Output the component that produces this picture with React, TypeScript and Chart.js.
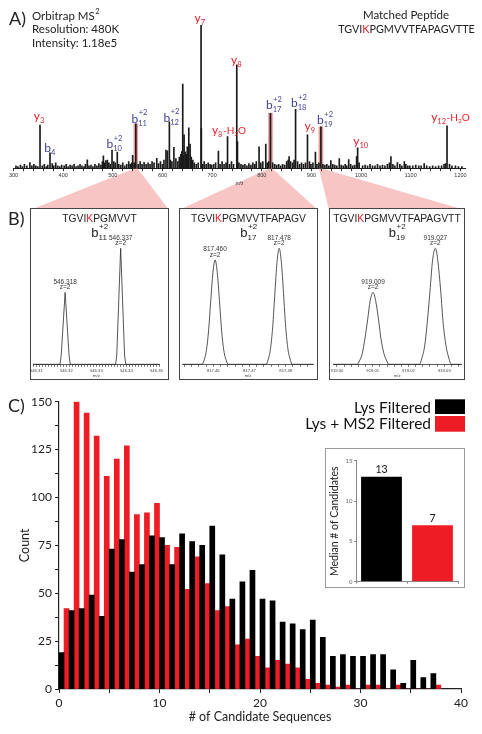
import React, { useEffect, useRef } from "react";
import { Chart, registerables } from "chart.js";

Chart.register(...registerables);

// ---------- colours ----------
const RED = "#e8212a";
const BLUE = "#3e3f9d";
const PINK = "#f8c5c5";
const HILITE = "#e79c9c";
const BAR_RED = "#ee1d25";
const INK = "#1a1a1a";

// ---------- Panel A : MS2 spectrum (relative intensity, %) ----------
const peakMz = [333, 353.4, 373.5, 448.7, 481, 486, 498.4, 509, 540, 546.32, 588.5, 607, 610, 613.9, 623, 640.8, 643.5, 646, 650, 653, 655.6, 677.7, 678.3, 712.6, 731, 749.6, 751, 794.5, 808, 817.46, 855, 868, 892, 908, 919.01, 939, 956, 975, 991, 993, 1060, 1073, 1087, 1127, 1170, 1173];
const peakIntensity = [4.2, 30.4, 11.1, 6.1, 9.0, 5.6, 13.0, 11.6, 9.3, 31.3, 7.2, 13.0, 12.5, 32.7, 14.9, 58.9, 23.5, 11.8, 15.3, 28.5, 17.2, 100, 28, 12.3, 22.3, 72.2, 18.8, 15.3, 17.2, 38.6, 8.4, 41.3, 23.5, 11.5, 29.2, 5.6, 7.0, 6.3, 8.4, 14.6, 8.4, 4.2, 4.9, 3.5, 3.5, 29.9];
const noiseMz = [305, 309, 314, 318, 322, 327, 337, 341, 345, 349, 358, 362, 366, 369, 378, 381, 385, 389, 393, 397, 402, 406, 410, 414, 418, 422, 426, 430, 434, 438, 442, 445, 452, 456, 460, 464, 468, 472, 476, 479, 483, 489, 492, 495, 502, 505, 512, 516, 520, 524, 528, 532, 535, 538, 543, 551, 555, 559, 563, 567, 571, 575, 579, 583, 592, 596, 600, 603, 616, 619, 627, 631, 634, 637, 639, 642, 648, 658, 661, 664, 668, 672, 681, 684, 688, 692, 696, 699, 703, 707, 716, 720, 724, 728, 735, 739, 743, 754, 758, 762, 766, 770, 774, 778, 782, 786, 789, 798, 802, 811, 814, 822, 826, 830, 834, 838, 842, 846, 850, 853, 858, 862, 865, 872, 876, 880, 884, 888, 896, 899, 903, 911, 915, 923, 927, 931, 935, 943, 947, 951, 960, 964, 968, 971, 979, 983, 987, 996, 1003, 1008, 1013, 1018, 1023, 1028, 1033, 1038, 1043, 1048, 1053, 1057, 1064, 1068, 1078, 1082, 1090, 1094, 1098, 1104, 1110, 1116, 1121, 1132, 1138, 1144, 1150, 1156, 1162, 1167, 1178, 1183, 1190, 1196, 1203];
const noiseIntensity = [2, 1.5, 2.5, 1.5, 3, 2, 2, 3, 2, 1.5, 2, 3, 1.5, 2.5, 3.5, 2, 4, 2, 1.5, 2.5, 2, 3, 1.5, 2.5, 2, 3, 1.5, 2, 3, 2, 1.5, 3, 2, 2.5, 1.5, 3, 2, 3.5, 2.5, 5, 4, 6, 4, 3, 5, 4, 3, 2.5, 4, 2, 3, 5, 3, 4, 4, 3, 5, 3, 4.5, 3, 4, 3, 5, 4, 3.5, 5, 3, 6, 6, 5, 7, 5, 8, 10, 12, 9, 10, 8, 6, 4, 3, 4, 3, 5, 3, 4, 3, 2.5, 3, 4, 3, 5, 3, 4, 3, 5, 3, 4, 3, 2.5, 3, 2, 3.5, 2.5, 4, 3, 5, 4, 5, 4, 5, 4, 3, 2.5, 3, 2, 3, 2.5, 5, 6, 5, 4, 6, 5, 3, 4, 3, 4, 5, 3, 4, 3, 4, 3, 2.5, 3, 2, 3, 2.5, 2, 2.5, 2, 3, 2, 3, 2, 2.5, 4, 2, 2.5, 2, 3, 2, 2, 3, 2, 2.5, 2, 3, 4, 3, 2, 3, 2, 3, 2, 2, 2, 2.5, 2, 2, 2, 1.5, 2, 1.5, 2, 2, 3, 3, 2, 2, 1.5, 1.5];
const highlightMz = [546.32, 817.46, 919.01];
const highlightIntensity = [31.3, 38.6, 29.2];

const ionLabels = [
  { ion: "y", sub: "3", sup: "", loss: false, color: RED, mz: 351.9, level: 33.9 },
  { ion: "b", sub: "4", sup: "", loss: false, color: BLUE, mz: 373.5, level: 11.8 },
  { ion: "b", sub: "10", sup: "+2", loss: false, color: BLUE, mz: 503.3, level: 14.2 },
  { ion: "b", sub: "11", sup: "+2", loss: false, color: BLUE, mz: 553.7, level: 32 },
  { ion: "b", sub: "12", sup: "+2", loss: false, color: BLUE, mz: 618.1, level: 32.7 },
  { ion: "y", sub: "7", sup: "", loss: false, color: RED, mz: 675.5, level: 102.1 },
  { ion: "y", sub: "8", sup: "", loss: false, color: RED, mz: 749, level: 72.9 },
  { ion: "y", sub: "8", sup: "", loss: true, color: RED, mz: 733.9, level: 24.1 },
  { ion: "b", sub: "17", sup: "+2", loss: false, color: BLUE, mz: 824.5, level: 41.3 },
  { ion: "b", sub: "18", sup: "+2", loss: false, color: BLUE, mz: 874.8, level: 42.7 },
  { ion: "y", sub: "9", sup: "", loss: false, color: RED, mz: 897.2, level: 26.9 },
  { ion: "b", sub: "19", sup: "+2", loss: false, color: BLUE, mz: 927.4, level: 31.1 },
  { ion: "y", sub: "10", sup: "", loss: false, color: RED, mz: 999.6, level: 16.5 },
  { ion: "y", sub: "12", sup: "", loss: true, color: RED, mz: 1179.8, level: 33.2 },
];
const matchedPeptide = "TGVIKPGMVVTFAPAGVTTE";
const instrumentLines = ["Orbitrap MS", "Resolution: 480K", "Intensity: 1.18e5"];

// ---------- Panel B : zoomed isotope peaks ----------
const zoomIons = ["11", "17", "19"];
const zoomPeptides = ["TGVIKPGMVVT", "TGVIKPGMVVTFAPAGV", "TGVIKPGMVVTFAPAGVTT"];
const zoom1Mz = [546.3089, 546.3179, 546.3183, 546.3196, 546.3209, 546.3213, 546.3364, 546.3368, 546.3381, 546.3394, 546.3398, 546.3511];
const zoom1Intensity = [0, 0, 8, 62, 8, 0, 0, 8, 100, 8, 0, 0];
const zoom2Mz = [817.4516, 817.4569, 817.4574, 817.4581, 817.4587, 817.4593, 817.4599, 817.4605, 817.4611, 817.4617, 817.4623, 817.4629, 817.4636, 817.4641, 817.4746, 817.4751, 817.4758, 817.4764, 817.477, 817.4776, 817.4782, 817.4788, 817.4794, 817.48, 817.4806, 817.4813, 817.4818, 817.4876];
const zoom2Intensity = [0, 0, 3, 12, 29, 55, 79, 90, 79, 55, 29, 12, 3, 0, 0, 3.5, 13.5, 32, 61, 88, 100, 88, 61, 32, 13.5, 3.5, 0, 0];
const zoom3Mz = [918.9989, 919.0057, 919.0063, 919.0071, 919.0078, 919.0086, 919.0093, 919.0101, 919.0108, 919.0116, 919.0123, 919.0131, 919.0139, 919.0145, 919.0231, 919.0237, 919.0245, 919.0252, 919.026, 919.0267, 919.0275, 919.0282, 919.029, 919.0297, 919.0305, 919.0313, 919.0319, 919.0348];
const zoom3Intensity = [0, 0, 3, 9.6, 22, 39, 55, 62, 55, 39, 22, 9.6, 3, 0, 0, 5, 15.5, 35, 63, 89, 100, 89, 63, 35, 15.5, 5, 0, 0];
const zoomApexMz = [[546.3196, 546.3381], [817.4605, 817.4782], [919.0101, 919.0275]];
const zoomApexIntensity = [[62, 100], [90, 100], [62, 100]];
const zoomApexLabels = [["546.318", "546.337"], ["817.460", "817.478"], ["919.009", "919.027"]];
const zoomRanges = [[546.3089, 546.3511], [817.45155, 817.48762], [918.9989, 919.03475]];
const zoomSteps = [0.001, 0.002, 0.002];

// ---------- Panel C : candidate histogram ----------
const bins = [0, 1, 2, 3, 4, 5, 6, 7, 8, 9, 10, 11, 12, 13, 14, 15, 16, 17, 18, 19, 20, 21, 22, 23, 24, 25, 26, 27, 28, 29, 30, 31, 32, 33, 34, 35, 36, 37];
const lysFiltered = [19, 41, 42, 49, 38, 73, 78, 61, 65, 80, 79, 65, 81, 77, 75, 85, 70, 47, 56, 62, 47, 46, 35, 34, 31, 36, 27, 17, 18, 17, 17, 18, 18, 10, 3, 15, 6, 8];
const lysMs2Filtered = [42, 150, 144, 132, 111, 120, 127, 91, 92, 97, 75, 74, 52, 69, 55, 41, 43, 23, 26, 17, 11, 15, 13, 11, 5, 3, 2, 1, 2, 0, 2, 2, 0, 2, 0, 0, 0, 2];
const seriesNames = ["Lys Filtered", "Lys + MS2 Filtered"];
const medianCandidates = [13, 7];

// ---------- layout (px) ----------
const BOX_TOP = 208;
const BOX_H = 172;
const BOXES = [
  { left: 30, width: 139, axisL: 33, axisR: 159.7 },
  { left: 179, width: 139, axisL: 182.7, axisR: 313.3 },
  { left: 329, width: 136, axisL: 330.7, axisR: 461.3 },
];

const LATO = "Lato, 'Open Sans', sans-serif";
const ARIAL = "'Liberation Sans', Arial, sans-serif";

function drawPeptide(ctx: any, text: string, cx: number, by: number, font: string) {
  const parts = [text.slice(0, 4), text.slice(4, 5), text.slice(5)];
  const colors = ["#222", RED, "#222"];
  ctx.font = font;
  const ws = parts.map((p) => ctx.measureText(p).width);
  let x = cx - (ws[0] + ws[1] + ws[2]) / 2;
  ctx.textAlign = "left";
  ctx.textBaseline = "alphabetic";
  parts.forEach((p, i) => {
    ctx.fillStyle = colors[i];
    ctx.fillText(p, x, by);
    x += ws[i];
  });
}

function drawIon(ctx: any, lab: any, cx: number, by: number) {
  const F = (s: number) => `${s}px ${LATO}`;
  ctx.font = F(12);
  const wI = ctx.measureText(lab.ion).width;
  ctx.font = F(7.5);
  const wSub = ctx.measureText(lab.sub).width;
  const wSup = lab.sup ? ctx.measureText(lab.sup).width : 0;
  const wS = Math.max(wSub, wSup) + 0.5;
  let wH = 0, w2 = 0, wO = 0;
  if (lab.loss) {
    ctx.font = F(10);
    wH = ctx.measureText("-H").width;
    wO = ctx.measureText("O").width;
    ctx.font = F(6.5);
    w2 = ctx.measureText("2").width;
  }
  const total = wI + wS + wH + w2 + wO;
  let x = cx - total / 2;
  ctx.fillStyle = lab.color;
  ctx.textAlign = "left";
  ctx.textBaseline = "alphabetic";
  ctx.font = F(12);
  ctx.fillText(lab.ion, x, by);
  x += wI;
  ctx.font = F(7.5);
  ctx.fillText(lab.sub, x, by + 3);
  if (lab.sup) ctx.fillText(lab.sup, x + 0.5, by - 7.5);
  x += wS;
  if (lab.loss) {
    ctx.font = F(10);
    ctx.fillText("-H", x, by);
    x += wH;
    ctx.font = F(6.5);
    ctx.fillText("2", x, by + 2);
    x += w2;
    ctx.font = F(10);
    ctx.fillText("O", x, by);
  }
}

const spectrumDecor = {
  id: "spectrumDecor",
  beforeDraw(chart: any) {
    const ctx = chart.ctx;
    const xs = chart.scales.x;
    const base = chart.chartArea.bottom;
    ctx.save();
    ctx.fillStyle = PINK;
    highlightMz.forEach((mz, i) => {
      const px = xs.getPixelForValue(mz);
      const b = BOXES[i];
      ctx.beginPath();
      ctx.moveTo(px - 2, base);
      ctx.lineTo(px + 2, base);
      ctx.lineTo(b.left + b.width, BOX_TOP + 2);
      ctx.lineTo(b.left, BOX_TOP + 2);
      ctx.closePath();
      ctx.fill();
    });
    ctx.restore();
  },
  afterDraw(chart: any) {
    const ctx = chart.ctx;
    const xs = chart.scales.x;
    const ys = chart.scales.y;
    ctx.save();
    ctx.fillStyle = "#222";
    ctx.textAlign = "left";
    ctx.textBaseline = "alphabetic";
    ctx.font = `18px ${LATO}`;
    ctx.fillText("A)", 9, 25);
    ctx.fillText("B)", 8, 225);
    ctx.font = `11.5px ${LATO}`;
    const bases = [19.5, 33.2, 46.9];
    instrumentLines.forEach((t, i) => ctx.fillText(t, 32, bases[i]));
    const w0 = ctx.measureText(instrumentLines[0]).width;
    ctx.font = `7.5px ${LATO}`;
    ctx.fillText("2", 32 + w0 + 0.5, 13.5);
    ctx.font = `11.5px ${LATO}`;
    ctx.textAlign = "center";
    ctx.fillText("Matched Peptide", 406, 18.5);
    drawPeptide(ctx, matchedPeptide, 406.5, 33.3, `10.8px ${LATO}`);
    ionLabels.forEach((lab) => drawIon(ctx, lab, xs.getPixelForValue(lab.mz), ys.getPixelForValue(lab.level)));
    ctx.restore();
  },
};

function zoomDecor(i: number) {
  return {
    id: "zoomDecor" + i,
    afterDraw(chart: any) {
      const ctx = chart.ctx;
      const xs = chart.scales.x;
      const ys = chart.scales.y;
      const cx = BOXES[i].width / 2;
      ctx.save();
      drawPeptide(ctx, zoomPeptides[i], cx, 13.5, `10.3px ${ARIAL}`);
      ctx.font = `13px ${ARIAL}`;
      const wb = ctx.measureText("b").width;
      ctx.font = `8px ${ARIAL}`;
      const ws = Math.max(ctx.measureText(zoomIons[i]).width, ctx.measureText("+2").width);
      let x = cx - (wb + ws) / 2;
      ctx.fillStyle = "#222";
      ctx.textAlign = "left";
      ctx.font = `13px ${ARIAL}`;
      ctx.fillText("b", x, 29);
      x += wb;
      ctx.font = `8px ${ARIAL}`;
      ctx.fillText(zoomIons[i], x, 32);
      ctx.fillText("+2", x + 0.5, 21);
      ctx.textAlign = "center";
      ctx.fillStyle = "#333";
      ctx.font = `6.5px ${ARIAL}`;
      zoomApexMz[i].forEach((mz, k) => {
        const px = xs.getPixelForValue(mz);
        const py = ys.getPixelForValue(zoomApexIntensity[i][k]);
        ctx.fillText(zoomApexLabels[i][k], px, py - 8.5);
        ctx.fillText("z=2", px, py - 3);
      });
      ctx.restore();
    },
  };
}

const histLegend = {
  id: "histLegend",
  afterDraw(chart: any) {
    const ctx = chart.ctx;
    ctx.save();
    ctx.fillStyle = "#222";
    ctx.textAlign = "left";
    ctx.textBaseline = "alphabetic";
    ctx.font = `18px ${LATO}`;
    ctx.fillText("C)", 8, 32);
    ctx.font = `15.5px ${LATO}`;
    ctx.textAlign = "right";
    const swatchColors = ["#000", BAR_RED];
    const textBase = [32.7, 49.3];
    const swTop = [19.3, 36];
    const swH = [14.7, 15.7];
    seriesNames.forEach((name, i) => {
      ctx.fillStyle = "#111";
      ctx.fillText(name, 431, textBase[i]);
      ctx.fillStyle = swatchColors[i];
      ctx.fillRect(435, swTop[i], 30, swH[i]);
    });
    ctx.restore();
  },
};

const insetValues = {
  id: "insetValues",
  afterDatasetsDraw(chart: any) {
    const ctx = chart.ctx;
    const meta = chart.getDatasetMeta(0);
    ctx.save();
    ctx.fillStyle = "#111";
    ctx.font = `10.5px ${LATO}`;
    ctx.textAlign = "center";
    ctx.textBaseline = "alphabetic";
    meta.data.forEach((bar: any, i: number) => {
      ctx.fillText(String(medianCandidates[i]), bar.x, bar.y - 3.5);
    });
    ctx.restore();
  },
};

export default function App() {
  const aRef = useRef<HTMLCanvasElement>(null);
  const b0Ref = useRef<HTMLCanvasElement>(null);
  const b1Ref = useRef<HTMLCanvasElement>(null);
  const b2Ref = useRef<HTMLCanvasElement>(null);
  const cRef = useRef<HTMLCanvasElement>(null);
  const insetRef = useRef<HTMLCanvasElement>(null);

  useEffect(() => {
    Chart.defaults.font.family = LATO;
    Chart.defaults.color = "#222";
    const charts: any[] = [];
    const common = {
      responsive: false,
      animation: false as const,
      devicePixelRatio: 1,
      events: [] as any[],
    };

    // ---- Panel A ----
    charts.push(
      new Chart(aRef.current as HTMLCanvasElement, {
        type: "bar",
        data: {
          datasets: [
            {
              data: peakMz.map((x, i) => ({ x, y: peakIntensity[i] })),
              backgroundColor: INK,
              barThickness: 1,
              grouped: false,
              order: 1,
            },
            {
              data: noiseMz.map((x, i) => ({ x, y: noiseIntensity[i] })),
              backgroundColor: INK,
              barThickness: 1,
              grouped: false,
              order: 2,
            },
            {
              data: highlightMz.map((x, i) => ({ x, y: highlightIntensity[i] })),
              backgroundColor: HILITE,
              barThickness: 4,
              grouped: false,
              order: 3,
            },
          ],
        },
        options: {
          ...common,
          layout: { padding: { left: 13.5, right: 16.6, top: 25, bottom: 20 }, autoPadding: false },
          plugins: { legend: { display: false }, tooltip: { enabled: false } },
          scales: {
            x: {
              type: "linear",
              min: 300,
              max: 1210,
              offset: false,
              grid: { display: true, offset: false, drawOnChartArea: false, tickLength: 2.5, color: "#333" },
              border: { display: true, color: "#222", width: 1 },
              ticks: {
                stepSize: 20,
                includeBounds: false,
                autoSkip: false,
                maxRotation: 0,
                padding: 1,
                color: "#333",
                font: { size: 5.5, family: ARIAL },
                callback: (v: any) => (Number(v) % 100 === 0 ? String(v) : ""),
              },
              title: { display: true, text: "m/z", color: "#333", font: { size: 5, family: ARIAL }, padding: { top: 0, bottom: 23 } },
              afterFit: (s: any) => {
                s.height = 41.3;
              },
            },
            y: { display: false, min: 0, max: 100 },
          },
        },
        plugins: [spectrumDecor],
      } as any)
    );

    // ---- Panel B ----
    const zoomRefs = [b0Ref, b1Ref, b2Ref];
    const zoomMz = [zoom1Mz, zoom2Mz, zoom3Mz];
    const zoomInt = [zoom1Intensity, zoom2Intensity, zoom3Intensity];
    zoomRefs.forEach((ref, i) => {
      const b = BOXES[i];
      charts.push(
        new Chart(ref.current as HTMLCanvasElement, {
          type: "line",
          data: {
            datasets: [
              {
                data: zoomMz[i].map((x, k) => ({ x, y: zoomInt[i][k] })),
                borderColor: "#2a2a2a",
                borderWidth: 0.8,
                pointRadius: 0,
                fill: false,
                tension: i === 0 ? 0 : 0.4,
                cubicInterpolationMode: i === 0 ? "default" : "monotone",
              },
            ],
          },
          options: {
            ...common,
            clip: false,
            layout: {
              padding: { left: b.axisL - b.left, right: b.left + b.width - b.axisR, top: 248.3 - BOX_TOP, bottom: 0 },
              autoPadding: false,
            },
            plugins: { legend: { display: false }, tooltip: { enabled: false } },
            scales: {
              x: {
                type: "linear",
                min: zoomRanges[i][0],
                max: zoomRanges[i][1],
                grid: { display: true, drawOnChartArea: false, tickLength: 2.5, color: "#333", lineWidth: 0.7 },
                border: { display: true, color: "#333", width: 0.8 },
                ticks: {
                  stepSize: zoomSteps[i],
                  includeBounds: false,
                  autoSkip: false,
                  maxRotation: 0,
                  padding: 1.5,
                  color: "#444",
                  font: { size: 4.2, family: ARIAL },
                  callback: (v: any) => {
                    const n = Number(v) * 100;
                    const r = Math.round(n);
                    return Math.abs(n - r) < 1e-4 ? (r / 100).toFixed(2) : "";
                  },
                },
                title: { display: true, text: "m/z", color: "#444", font: { size: 4.2, family: ARIAL }, padding: { top: 0, bottom: 1.8 } },
                afterFit: (s: any) => {
                  s.height = BOX_H - (364.3 - BOX_TOP);
                },
              },
              y: { display: false, min: 0, max: 100 },
            },
          },
          plugins: [zoomDecor(i)],
        } as any)
      );
    });

    // ---- Panel C ----
    charts.push(
      new Chart(cRef.current as HTMLCanvasElement, {
        type: "bar",
        data: {
          datasets: [
            {
              label: seriesNames[0],
              data: bins.map((b, i) => ({ x: b + 0.5, y: lysFiltered[i] })),
              backgroundColor: "#000",
              barPercentage: 1,
              categoryPercentage: 1,
            },
            {
              label: seriesNames[1],
              data: bins.map((b, i) => ({ x: b + 0.5, y: lysMs2Filtered[i] })),
              backgroundColor: BAR_RED,
              barPercentage: 1,
              categoryPercentage: 1,
            },
          ],
        },
        options: {
          ...common,
          layout: { padding: { left: 0, right: 21, top: 21.7, bottom: 0 }, autoPadding: false },
          plugins: { legend: { display: false }, tooltip: { enabled: false } },
          scales: {
            x: {
              type: "linear",
              min: 0,
              max: 40,
              offset: false,
              grid: { display: true, offset: false, drawOnChartArea: false, tickLength: 4, color: "#222" },
              border: { display: true, color: "#222", width: 1.2 },
              ticks: {
                stepSize: 5,
                autoSkip: false,
                maxRotation: 0,
                padding: 3,
                color: "#222",
                font: { size: 12 },
                callback: (v: any) => (Number(v) % 10 === 0 ? String(v) : ""),
              },
              title: { display: true, text: "# of Candidate Sequences", color: "#222", font: { size: 12.5 }, padding: { top: 0, bottom: 9.8 } },
              afterFit: (s: any) => {
                s.height = 45;
              },
            },
            y: {
              min: 0,
              max: 150,
              grid: { display: true, drawOnChartArea: false, tickLength: 4, color: "#222" },
              border: { display: true, color: "#222", width: 1.2 },
              ticks: {
                stepSize: 12.5,
                autoSkip: false,
                padding: 3,
                color: "#222",
                font: { size: 12 },
                callback: (v: any) => (Number(v) % 25 === 0 ? String(v) : ""),
              },
              title: { display: true, text: "Count", color: "#222", font: { size: 12.5 }, padding: { top: 17.5, bottom: 0 } },
              afterFit: (s: any) => {
                s.width = 59;
              },
            },
          },
        },
        plugins: [histLegend],
      } as any)
    );

    // ---- Inset ----
    charts.push(
      new Chart(insetRef.current as HTMLCanvasElement, {
        type: "bar",
        data: {
          labels: seriesNames,
          datasets: [
            {
              data: medianCandidates,
              backgroundColor: ["#000", BAR_RED],
              barPercentage: 0.8,
              categoryPercentage: 1,
            },
          ],
        },
        options: {
          ...common,
          layout: { padding: { left: 0, right: 7, top: 12.7, bottom: 0 }, autoPadding: false },
          plugins: { legend: { display: false }, tooltip: { enabled: false } },
          scales: {
            x: {
              ticks: { display: false },
              grid: { display: true, drawOnChartArea: false, tickLength: 2, color: "#888" },
              border: { display: true, color: "#888", width: 1 },
              afterFit: (s: any) => {
                s.height = 6.3;
              },
            },
            y: {
              min: 0,
              max: 15,
              ticks: { stepSize: 5, color: "#666", font: { size: 6 }, padding: 1.5 },
              grid: { display: true, drawOnChartArea: false, tickLength: 2, color: "#888" },
              border: { display: true, color: "#888", width: 1 },
              title: { display: true, text: "Median # of Candidates", color: "#222", font: { size: 10.5 }, padding: { top: 3, bottom: 0 } },
              afterFit: (s: any) => {
                s.width = 31;
              },
            },
          },
        },
        plugins: [insetValues],
      } as any)
    );

    return () => charts.forEach((c) => c.destroy());
  }, []);

  const abs = (l: number, t: number, w: number, h: number): React.CSSProperties => ({
    position: "absolute",
    left: l,
    top: t,
    width: w,
    height: h,
  });

  return (
    <div style={{ position: "absolute", left: 0, top: 0, width: 482, height: 734, background: "#fff", overflow: "hidden" }}>
      <canvas ref={aRef} width={482} height={230} style={abs(0, 0, 482, 230)} />
      {BOXES.map((b, i) => (
        <div
          key={"box" + i}
          style={{ ...abs(b.left, BOX_TOP, b.width, BOX_H), boxSizing: "border-box", border: "1px solid #444", background: "#fff" }}
        />
      ))}
      <canvas ref={b0Ref} width={BOXES[0].width} height={BOX_H} style={abs(BOXES[0].left, BOX_TOP, BOXES[0].width, BOX_H)} />
      <canvas ref={b1Ref} width={BOXES[1].width} height={BOX_H} style={abs(BOXES[1].left, BOX_TOP, BOXES[1].width, BOX_H)} />
      <canvas ref={b2Ref} width={BOXES[2].width} height={BOX_H} style={abs(BOXES[2].left, BOX_TOP, BOXES[2].width, BOX_H)} />
      <canvas ref={cRef} width={482} height={354} style={abs(0, 380, 482, 354)} />
      <div style={{ ...abs(325, 448, 140, 140), boxSizing: "border-box", border: "1.5px solid #9a9a9a", background: "#fff" }} />
      <canvas ref={insetRef} width={140} height={140} style={abs(325, 448, 140, 140)} />
    </div>
  );
}
